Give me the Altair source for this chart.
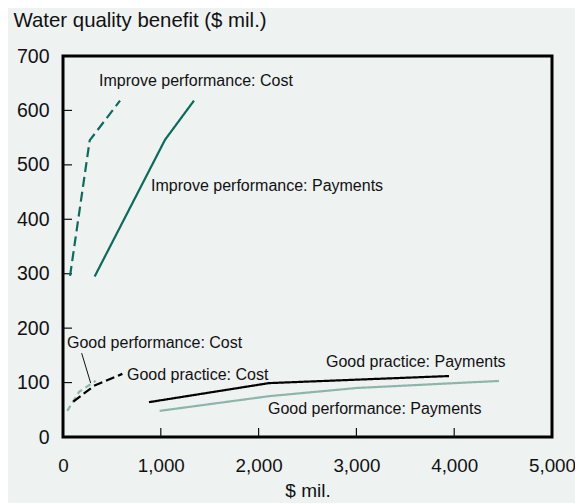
import altair as alt
import pandas as pd

# Data
ip_cost_x = [72, 273, 583]
ip_cost_y = [296, 545, 618]
ip_pay_x = [324, 1043, 1339]
ip_pay_y = [295, 546, 618]
gpf_cost_x = [44, 164, 334]
gpf_cost_y = [48, 83, 103]
gpr_cost_x = [106, 317, 607]
gpr_cost_y = [65, 94, 116]
gpr_pay_x = [879, 2106, 3947]
gpr_pay_y = [64, 99, 112]
gpf_pay_x = [988, 2106, 3000, 4458]
gpf_pay_y = [48, 75, 90, 103]

series_names = [
    "Improve performance: Cost",
    "Improve performance: Payments",
    "Good performance: Cost",
    "Good practice: Cost",
    "Good practice: Payments",
    "Good performance: Payments",
]
series_colors = ["#0b6b5c", "#0b6b5c", "#8fb5aa", "#000000", "#000000", "#8fb5aa"]
series_dash = [[10, 5], [1, 0], [6, 4], [9, 4], [1, 0], [1, 0]]

label_text = series_names
label_x = [368, 900, 41, 654, 2689, 2096]
label_y = [654, 461, 173, 114, 138, 51]

leader_x = [191, 283]
leader_y = [154, 99]

y_ticks = [100, 200, 300, 400, 500, 600]
x_ticks = [1000, 2000, 3000, 4000]

all_x = [ip_cost_x, ip_pay_x, gpf_cost_x, gpr_cost_x, gpr_pay_x, gpf_pay_x]
all_y = [ip_cost_y, ip_pay_y, gpf_cost_y, gpr_cost_y, gpr_pay_y, gpf_pay_y]

rows = []
for name, xs, ys in zip(series_names, all_x, all_y):
    for i, (xv, yv) in enumerate(zip(xs, ys)):
        rows.append({"series": name, "x": xv, "y": yv, "order": i})
df = pd.DataFrame(rows)

labels_df = pd.DataFrame({"text": label_text, "x": label_x, "y": label_y})
leader_df = pd.DataFrame({"x": leader_x, "y": leader_y, "order": [0, 1]})
ytick_df = pd.DataFrame({"v": y_ticks})
xtick_df = pd.DataFrame({"v": x_ticks})

FONT = "Liberation Sans"

xscale = alt.Scale(domain=[0, 5000], nice=False)
yscale = alt.Scale(domain=[0, 700], nice=False)

lines = alt.Chart(df).mark_line(strokeWidth=2.2).encode(
    x=alt.X("x:Q", scale=xscale,
            axis=alt.Axis(title="$ mil.", values=[0, 1000, 2000, 3000, 4000, 5000],
                          format=",d", ticks=False, domain=False, grid=False,
                          labelFlush=False, labelOverlap=False,
                          labelFontSize=18.8, labelFont=FONT, labelColor="#111111",
                          labelPadding=19, titleFontSize=19, titleFont=FONT,
                          titleFontWeight="normal", titleColor="#111111",
                          titlePadding=7)),
    y=alt.Y("y:Q", scale=yscale,
            axis=alt.Axis(title="Water quality benefit ($ mil.)",
                          values=[0, 100, 200, 300, 400, 500, 600, 700],
                          ticks=False, domain=False, grid=False,
                          labelFlush=False, labelOverlap=False,
                          labelFontSize=19.5, labelFont=FONT, labelColor="#111111",
                          labelPadding=14, titleAngle=0, titleAlign="left",
                          titleBaseline="middle", titleX=-50, titleY=-36,
                          titleFontSize=20.4, titleFont=FONT,
                          titleFontWeight="normal", titleColor="#111111")),
    color=alt.Color("series:N", scale=alt.Scale(domain=series_names, range=series_colors), legend=None),
    strokeDash=alt.StrokeDash("series:N", scale=alt.Scale(domain=series_names, range=series_dash), legend=None),
    detail="series:N",
    order="order:Q",
)

texts = alt.Chart(labels_df).mark_text(
    align="left", baseline="middle", font=FONT, fontSize=16, color="#111111"
).encode(x=alt.X("x:Q", scale=xscale), y=alt.Y("y:Q", scale=yscale), text="text:N")

leader = alt.Chart(leader_df).mark_line(color="#111111", strokeWidth=1).encode(
    x=alt.X("x:Q", scale=xscale), y=alt.Y("y:Q", scale=yscale), order="order:Q"
)

yticks = alt.Chart(ytick_df).mark_rule(color="#111111", strokeWidth=1.2).encode(
    y=alt.Y("v:Q", scale=yscale), x=alt.value(0), x2=alt.value(9)
)
xticks = alt.Chart(xtick_df).mark_rule(color="#111111", strokeWidth=1.2).encode(
    x=alt.X("v:Q", scale=xscale), y=alt.value(372), y2=alt.value(381)
)

chart = alt.layer(yticks, xticks, lines, leader, texts).properties(
    width=489, height=381,
    background="#eef2f1",
    padding={"left": 55, "top": 48, "right": 23, "bottom": 66},
    autosize=alt.AutoSizeParams(type="none"),
).configure_view(stroke="#000000", strokeWidth=3)

chart.save("out.html", embed_options={"renderer": "svg", "actions": False})
